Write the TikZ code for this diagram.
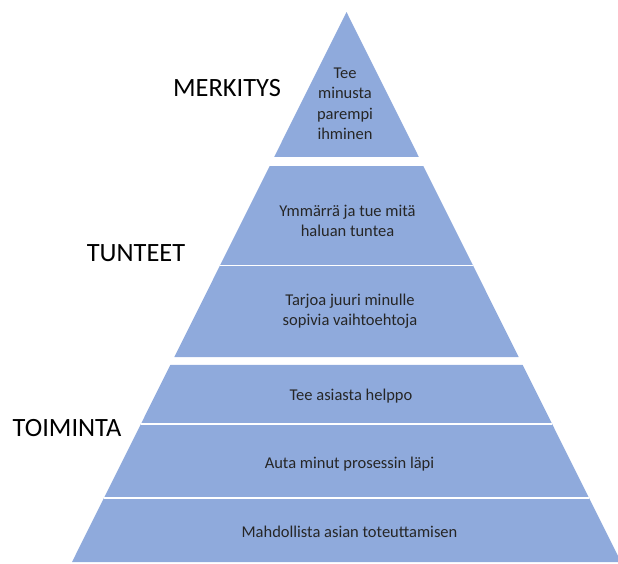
\documentclass[tikz,border=0pt]{standalone}
\usepackage{fontspec}
\setmainfont{Carlito}
\usepackage{xcolor}
\usepackage{tikz}
\usetikzlibrary{calc}

\definecolor{pyrblue}{HTML}{8FAADC}
\definecolor{txtgray}{HTML}{262626}

\begin{document}
\begin{tikzpicture}[
    x=1pt, y=-1pt,
    band/.style={fill=pyrblue, draw=none},
    divider/.style={white, line width=1.6pt},
    level/.style={font=\fontsize{26.4}{30}\selectfont, text=black, inner sep=0pt},
    item/.style={font=\fontsize{16.5}{20.5}\selectfont, text=txtgray, align=center, inner sep=0pt}
]
\useasboundingbox (0,0) rectangle (618,563);

% Outline of the pyramid
\coordinate (apex) at (346.5,12);
\coordinate (bl) at (72,562);
\coordinate (br) at (621,562);

% Points on both slopes
\foreach \n/\t in {a/0.2636, b/0.28, c/0.4609, d/0.6273, e/0.6418, f/0.749, g/0.8836}{
    \coordinate (l\n) at ($(apex)!\t!(bl)$);
    \coordinate (r\n) at ($(apex)!\t!(br)$);
}

% Bands
\fill[band] (apex) -- (ra) -- (la) -- cycle;
\fill[band] (lb) -- (rb) -- (rd) -- (ld) -- cycle;
\fill[band] (le) -- (re) -- (br) -- (bl) -- cycle;

% White lines inside the bands
\draw[divider] (lc) -- (rc);
\draw[divider] (lf) -- (rf);
\draw[divider] (lg) -- (rg);

% Levels on the left
\node[level] (merkitys) at (227,88) {MERKITYS};
\node[level] (tunteet) at (136,253.5) {TUNTEET};
\node[level] (toiminta) at (67,428.5) {TOIMINTA};

% Texts in the bands
\node[item] (tee) at (345,104) {Tee\\minusta\\parempi\\ihminen};
\node[item] (ymmarra) at (347.5,221) {Ymmärrä ja tue mitä\\haluan tuntea};
\node[item] (tarjoa) at (350,311) {Tarjoa juuri minulle\\sopivia vaihtoehtoja};
\node[item] (helppo) at (351,396) {Tee asiasta helppo};
\node[item] (auta) at (349.5,464) {Auta minut prosessin läpi};
\node[item] (mahdollista) at (349.5,532) {Mahdollista asian toteuttamisen};

\end{tikzpicture}
\end{document}
